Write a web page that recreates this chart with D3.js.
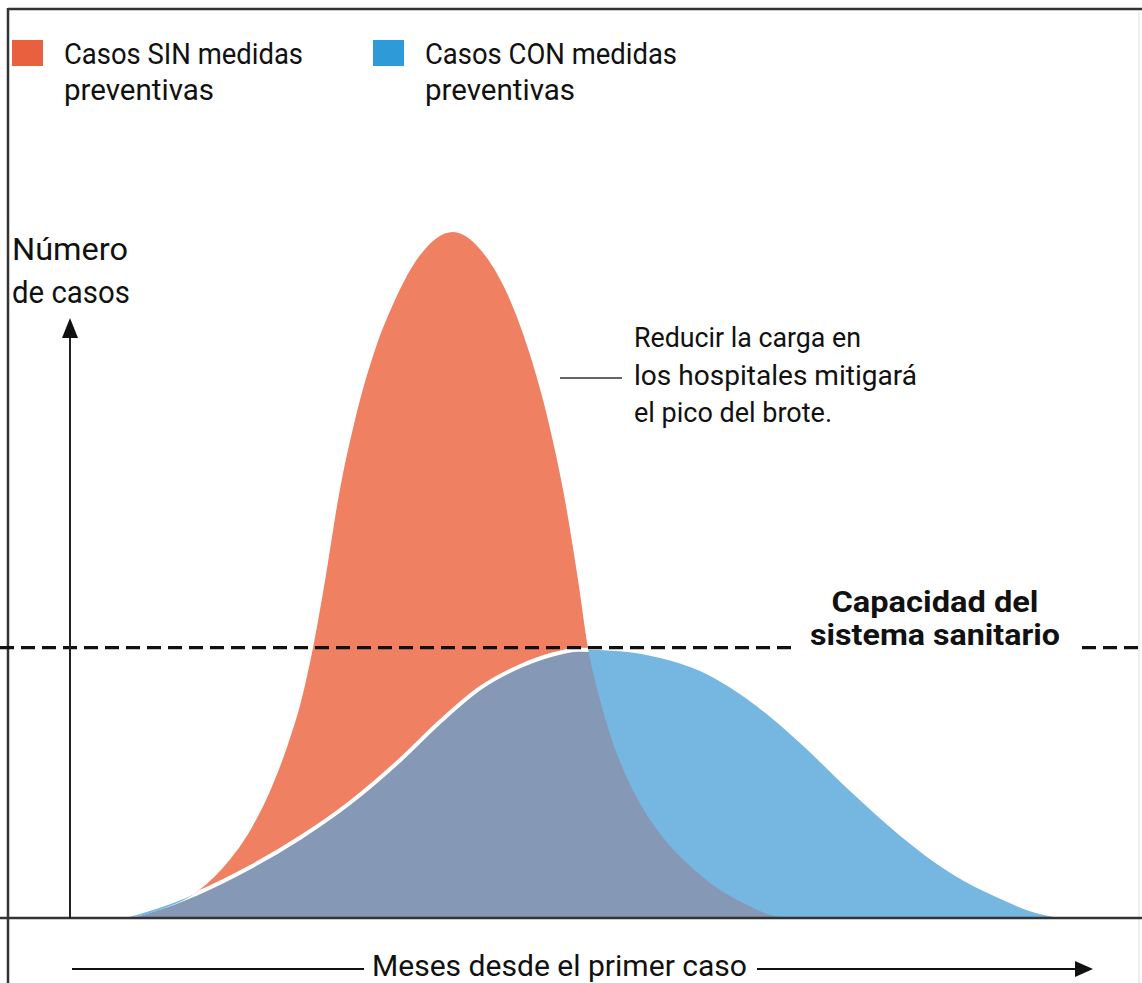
<!DOCTYPE html>
<html>
<head>
<meta charset="utf-8">
<script src="https://cdn.jsdelivr.net/npm/d3@7"></script>
<style>
  html, body { margin: 0; padding: 0; background: #fff; }
  svg { display: block; font-family: Roboto, "Noto Sans", sans-serif; }
</style>
</head>
<body>
<svg id="chart" width="1142" height="983"></svg>
<script>
// Time since the first case (arbitrary units) and number of cases (peak = 100)
const sinT     = [6, 9, 12.5, 15.7, 18.15, 20.15, 21.75, 23.15, 24.3, 25.6, 26.8, 28.5, 30.5, 32.5, 35, 38.3, 41.5, 44, 46, 47.8, 49.5, 50.8, 51.8, 53, 54.2, 55.8, 57.7, 59.95, 62.45, 65, 67.7, 70.2, 72.5];
const sinCases = [0, 1.2, 3.6, 8.0, 13.1, 19.0, 25.1, 31.8, 39.4, 50.0, 60.9, 72.6, 82.8, 90.1, 96.6, 100, 96.6, 90.1, 82.1, 72.6, 60.9, 49.3, 39.4, 31.8, 25.9, 20.1, 15.0, 10.6, 7.0, 4.1, 1.9, 0.4, 0];

const conT     = [5.5, 9, 12.7, 18, 23, 28, 33, 37, 41, 45, 48, 50.8, 55, 59, 63, 68, 73, 78, 83, 88, 93, 96, 99];
const conCases = [0, 1.5, 3.6, 7.4, 11.7, 16.8, 23.0, 28.6, 33.5, 36.7, 38.3, 39.1, 38.9, 37.9, 36.0, 31.6, 25.5, 18.5, 12.0, 6.6, 2.8, 1.0, 0];

const capacity = 39.4;

const legendItems = [
    { lines: ["Casos SIN medidas", "preventivas"], color: "#e9603f", x: 12, widths: [239, 150] },
    { lines: ["Casos CON medidas", "preventivas"], color: "#2e9bd8", x: 373, widths: [252, 150] }
];
const yLabel = ["Número", "de casos"];
const xLabel = "Meses desde el primer caso";
const noteLines = ["Reducir la carga en", "los hospitales mitigará", "el pico del brote."];
const capacityLines = ["Capacidad del", "sistema sanitario"];

document.addEventListener('DOMContentLoaded', () => {
    const svg = d3.select("#chart");
    const W = 1142, H = 983;

    const x = d3.scaleLinear().domain([0, 102]).range([70, 1090]);
    const y = d3.scaleLinear().domain([0, 100]).range([918, 232]);

    const sin = sinT.map((t, i) => ({ t, v: sinCases[i] }));
    const con = conT.map((t, i) => ({ t, v: conCases[i] }));

    const area = d3.area().x(d => x(d.t)).y0(y(0)).y1(d => y(d.v)).curve(d3.curveMonotoneX);
    const line = d3.line().x(d => x(d.t)).y(d => y(d.v)).curve(d3.curveMonotoneX);

    // --- frame ---
    svg.append("line").attr("x1", 8).attr("x2", W).attr("y1", 9).attr("y2", 9)
        .attr("stroke", "#333").attr("stroke-width", 2.5);
    svg.append("line").attr("x1", 8).attr("x2", 8).attr("y1", 8).attr("y2", H)
        .attr("stroke", "#333").attr("stroke-width", 2.5);
    svg.append("line").attr("x1", 1139).attr("x2", 1139).attr("y1", 12).attr("y2", H)
        .attr("stroke", "#ddd").attr("stroke-width", 1);

    // --- 1. Curves ---
    svg.append("clipPath").attr("id", "sin-clip")
        .append("path").attr("d", area(sin));

    svg.append("path").attr("d", area(sin)).attr("fill", "#ef8062");
    svg.append("path").attr("d", area(con)).attr("fill", "#76b7e2");
    // overlap of both curves
    svg.append("path").attr("d", area(con)).attr("fill", "#8599b7")
        .attr("clip-path", "url(#sin-clip)");
    svg.append("path").attr("d", line(con)).attr("fill", "none")
        .attr("stroke", "#fff").attr("stroke-width", 4)
        .attr("clip-path", "url(#sin-clip)");

    // --- 2. Capacity line ---
    const capY = y(capacity);
    [[0, 792], [1082, W]].forEach(([a, b]) => {
        svg.append("line").attr("x1", a).attr("x2", b).attr("y1", capY).attr("y2", capY)
            .attr("stroke", "#111").attr("stroke-width", 3.2)
            .attr("stroke-dasharray", "14 7");
    });
    capacityLines.forEach((txt, i) => {
        svg.append("text").attr("x", 935).attr("y", 612 + i * 33)
            .attr("text-anchor", "middle").attr("font-weight", "bold")
            .attr("font-size", 30).attr("fill", "#111")
            .attr("textLength", i === 0 ? 207 : 250).attr("lengthAdjust", "spacingAndGlyphs")
            .text(txt);
    });

    // --- 3. Axes ---
    svg.append("line").attr("x1", 0).attr("x2", W).attr("y1", y(0)).attr("y2", y(0))
        .attr("stroke", "#333").attr("stroke-width", 2.5);
    svg.append("line").attr("x1", x(0)).attr("x2", x(0)).attr("y1", y(0)).attr("y2", 334)
        .attr("stroke", "#222").attr("stroke-width", 2);
    svg.append("path").attr("d", `M${x(0)},318 L${x(0) - 8},338 L${x(0) + 8},338 Z`).attr("fill", "#111");

    yLabel.forEach((txt, i) => {
        svg.append("text").attr("x", 12).attr("y", 260 + i * 43)
            .attr("font-size", 31).attr("fill", "#111")
            .attr("textLength", i === 0 ? 116 : 118).attr("lengthAdjust", "spacingAndGlyphs")
            .text(txt);
    });

    const arrowY = 969;
    svg.append("line").attr("x1", 72).attr("x2", 364).attr("y1", arrowY).attr("y2", arrowY)
        .attr("stroke", "#111").attr("stroke-width", 2);
    svg.append("line").attr("x1", 757).attr("x2", 1078).attr("y1", arrowY).attr("y2", arrowY)
        .attr("stroke", "#111").attr("stroke-width", 2);
    svg.append("path").attr("d", `M1093,${arrowY} L1075,${arrowY - 8} L1075,${arrowY + 8} Z`).attr("fill", "#111");
    svg.append("text").attr("x", 372).attr("y", 976)
        .attr("font-size", 30).attr("fill", "#111")
        .attr("textLength", 375).attr("lengthAdjust", "spacingAndGlyphs")
        .text(xLabel);

    // --- 4. Legend ---
    legendItems.forEach(item => {
        svg.append("rect").attr("x", item.x).attr("y", 40).attr("width", 31).attr("height", 26)
            .attr("fill", item.color);
        item.lines.forEach((txt, i) => {
            svg.append("text").attr("x", item.x + 52).attr("y", 64 + i * 36)
                .attr("font-size", 30).attr("fill", "#111")
                .attr("textLength", item.widths[i]).attr("lengthAdjust", "spacingAndGlyphs")
                .text(txt);
        });
    });

    // --- 5. Annotation ---
    svg.append("line").attr("x1", 560).attr("x2", 622).attr("y1", 378).attr("y2", 378)
        .attr("stroke", "#666").attr("stroke-width", 2);
    const noteWidths = [227, 283, 198];
    noteLines.forEach((txt, i) => {
        svg.append("text").attr("x", 634).attr("y", 347 + i * 37.5)
            .attr("font-size", 27).attr("fill", "#111")
            .attr("textLength", noteWidths[i]).attr("lengthAdjust", "spacingAndGlyphs")
            .text(txt);
    });
});
</script>
</body>
</html>
